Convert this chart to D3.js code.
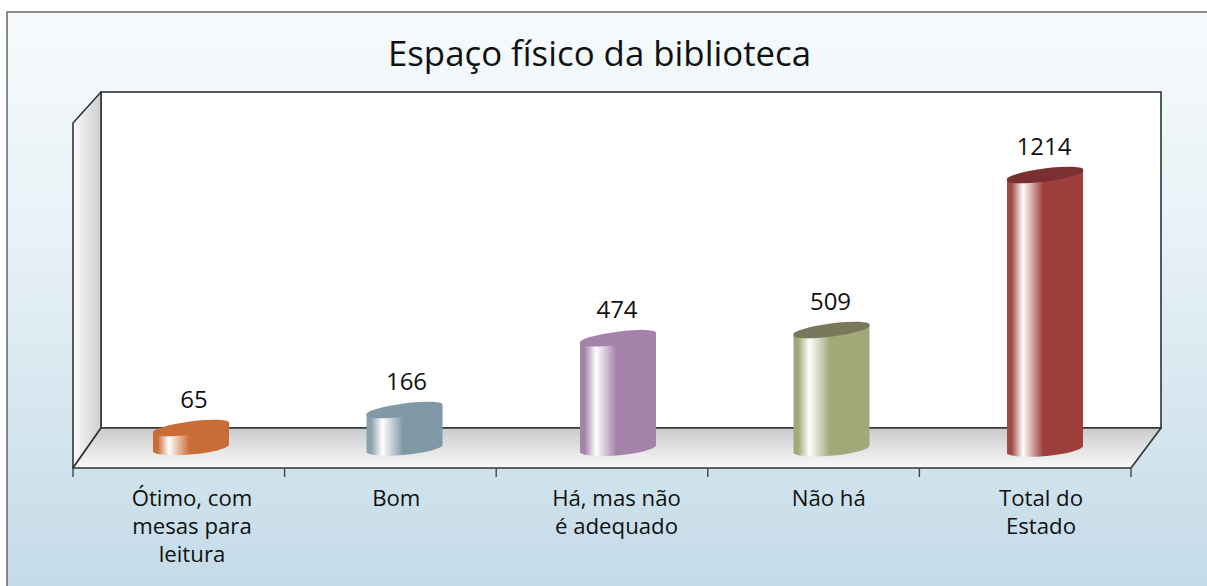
<!DOCTYPE html>
<html><head><meta charset="utf-8">
<script src="https://cdn.jsdelivr.net/npm/d3@7"></script>
<style>html,body{margin:0;background:#fff}svg{display:block}text{font-family:"Open Sans",sans-serif;fill:#111}</style>
</head><body><div id="c"></div>
<script>
const chartTitle = "Espaço físico da biblioteca";
const categories = ["Ótimo, com|mesas para|leitura", "Bom", "Há, mas não|é adequado", "Não há", "Total do|Estado"];
const values = [65, 166, 474, 509, 1214];
const sideColors = ["#c96c37", "#8099a6", "#a582aa", "#a3a878", "#9d3e3a"];
const edgeColors = ["#c96c37", "#8aa0ac", "#a582aa", "#a3a878", "#a04a44"];
const topColors = ["#c96c37", "#8099a6", "#a582aa", "#77795a", "#7a2f30"];

const W = 1207, H = 586;
const svg = d3.select("#c").append("svg").attr("width", W).attr("height", H);
const defs = svg.append("defs");

function grad(id, x2, y2, stops) {
  const g = defs.append("linearGradient").attr("id", id)
    .attr("x1", 0).attr("y1", 0).attr("x2", x2).attr("y2", y2);
  stops.forEach(([o, c]) => g.append("stop").attr("offset", o).attr("stop-color", c));
}
grad("bg", 0, 1, [[0, "#f6fafc"], [0.35, "#e9f2f7"], [1, "#c2dae7"]]);
grad("wall", 1, 0, [[0, "#fbfbfb"], [1, "#cdced0"]]);
grad("floor", 0, 1, [[0, "#c9cacc"], [1, "#fafafa"]]);
categories.forEach((c, i) => grad("bar" + i, 1, 0, [
  [0, edgeColors[i]], [0.06, edgeColors[i]], [0.21, "#ffffff"], [0.48, sideColors[i]], [1, sideColors[i]]
]));

// frame
svg.append("rect").attr("x", 7).attr("y", 12).attr("width", W + 10).attr("height", H + 10)
  .attr("fill", "url(#bg)").attr("stroke", "#666").attr("stroke-width", 1.5);

// 3D box
const wallL = 101, wallR = 1161, wallT = 92, floorB = 428;
const frontL = 73, frontR = 1131, frontB = 468, sideT = 123;
const line = "#333";
svg.append("rect").attr("x", wallL).attr("y", wallT).attr("width", wallR - wallL).attr("height", floorB - wallT)
  .attr("fill", "#fff").attr("stroke", line).attr("stroke-width", 1.6);
svg.append("path").attr("d", d3.line()([[frontL, sideT], [wallL, wallT], [wallL, floorB], [frontL, frontB]]) + "Z")
  .attr("fill", "url(#wall)").attr("stroke", line).attr("stroke-width", 1.6).attr("stroke-linejoin", "round");
svg.append("path").attr("d", d3.line()([[frontL, frontB], [wallL, floorB], [wallR, floorB], [frontR, frontB]]) + "Z")
  .attr("fill", "url(#floor)").attr("stroke", line).attr("stroke-width", 1.6).attr("stroke-linejoin", "round");

// ticks
const tickScale = d3.scaleLinear().domain([0, categories.length]).range([frontL, frontR]);
d3.range(categories.length + 1).forEach(i => {
  svg.append("line").attr("x1", tickScale(i)).attr("x2", tickScale(i)).attr("y1", frontB).attr("y2", frontB + 9)
    .attr("stroke", "#444").attr("stroke-width", 1.4);
});

// scales
const xBar = d3.scalePoint().domain(d3.range(categories.length)).range([191, 1045]);
const y = d3.scaleLinear().domain([0, 65, 166, 509, 1214]).range([451, 433, 415, 335, 180]);
const barW = 76, rise = 10, riseB = 7;

values.forEach((v, i) => {
  const xL = xBar(i) - barW / 2, xR = xBar(i) + barW / 2, t = y(v), b = y(0) + 1 + (i * 0.4);
  const ang = -7.5;
  svg.append("path")
    .attr("d", `M${xL},${t}L${xL},${b}A${barW / 2 + 0.6},7 ${-5} 0 0 ${xR},${b - riseB}L${xR},${t - rise}Z`)
    .attr("fill", `url(#bar${i})`);
  // top cap
  svg.append("path")
    .attr("d", `M${xL},${t}A${barW / 2 + 0.5},6 ${ang} 1 1 ${xR},${t - rise}A${barW / 2 + 0.5},6 ${ang} 1 1 ${xL},${t}Z`)
    .attr("fill", topColors[i]);
  // value label
  svg.append("text").attr("x", xBar(i) + (i === 0 ? 3 : i === 1 ? 2 : -1))
    .attr("y", t - 25.5).attr("text-anchor", "middle").attr("font-size", 24).text(v);
});

// category labels
const xLabel = d3.scalePoint().domain(d3.range(categories.length)).range([192, 1041]);
const labelNudge = [0, -8, 0, 0, 0];
categories.forEach((c, i) => {
  const t = svg.append("text").attr("text-anchor", "middle").attr("font-size", 22.2);
  c.split("|").forEach((s, k) => t.append("tspan")
    .attr("x", xLabel(i) + labelNudge[i]).attr("y", 506 + k * 28).text(s));
});

svg.append("text").attr("x", 599.5).attr("y", 66).attr("text-anchor", "middle")
  .attr("font-size", 34.8).attr("fill", "#222").text(chartTitle);
</script></body></html>
